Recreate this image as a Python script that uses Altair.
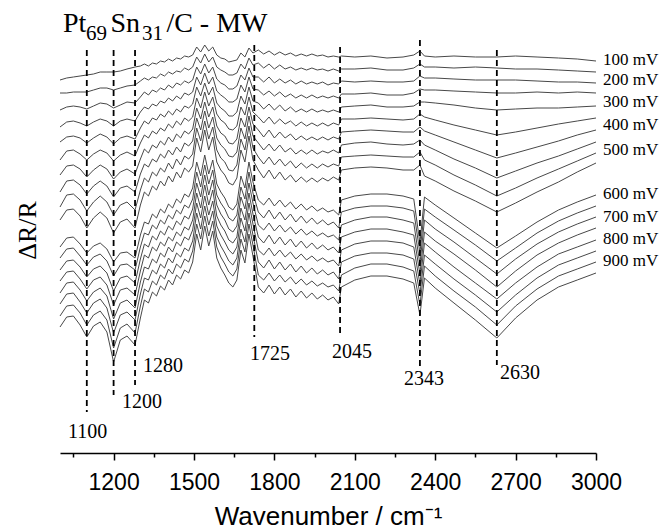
import altair as alt
import pandas as pd

# Wavenumber grid (cm-1) at which the stacked spectra were read
WAVENUMBER = [1000, 1025, 1050, 1075, 1100, 1125, 1150, 1175, 1200, 1225, 1250, 1280,
              1300, 1315, 1330, 1345, 1360, 1375, 1390, 1405, 1420, 1435, 1450, 1465, 1480, 1495, 1510,
              1525, 1540, 1555, 1570, 1585, 1600, 1615, 1630, 1645, 1660, 1675, 1690, 1705, 1720,
              1740, 1760, 1780, 1800, 1820, 1840, 1860, 1880, 1900, 1920, 1940, 1960, 1980, 2000, 2020, 2040,
              2050, 2100, 2160, 2220, 2280, 2320, 2343, 2360, 2400, 2470, 2550, 2630, 2700, 2780, 2860, 2930, 3000]

# Stacked dR/R traces (arbitrary offset units, larger = lower on the page)
S100 = [80, 78, 77, 76, 75, 74, 72, 72, 72, 71, 69, 67,
        66, 64, 66, 63, 64, 61, 62, 59, 61, 58, 59, 56, 57, 55, 47, 52, 45, 51, 47, 55, 58, 59, 62, 61, 60, 53, 57, 48, 53,
        50, 54, 51, 55, 52, 55, 53, 56, 54, 56, 54, 56, 55, 57, 56, 57,
        56, 57, 56, 58, 57, 55, 51, 56, 57, 56, 57, 57, 56, 57, 58, 59, 61]
S150 = [93, 93, 92, 92, 92, 90, 88, 88, 90, 88, 86, 85,
        81, 78, 80, 77, 78, 74, 76, 72, 74, 71, 72, 68, 70, 67, 57, 63, 54, 62, 57, 67, 70, 72, 75, 75, 73, 64, 69, 58, 65,
        63, 68, 64, 69, 65, 69, 67, 70, 68, 70, 68, 70, 69, 71, 69, 71,
        69, 69, 68, 70, 70, 68, 64, 67, 67, 68, 67, 68, 69, 69, 70, 71, 72]
S200 = [110, 107, 106, 107, 109, 106, 103, 104, 108, 105, 102, 103,
        97, 92, 95, 90, 92, 88, 90, 85, 88, 83, 85, 81, 83, 80, 67, 74, 64, 73, 67, 79, 83, 85, 89, 89, 86, 75, 80, 68, 77,
        77, 82, 77, 83, 79, 83, 80, 84, 81, 84, 82, 84, 82, 85, 83, 84,
        81, 82, 81, 82, 82, 81, 76, 78, 78, 79, 80, 80, 80, 81, 82, 82, 83]
S250 = [127, 122, 121, 123, 126, 122, 119, 121, 126, 121, 119, 121,
        112, 107, 109, 104, 106, 101, 103, 98, 101, 96, 99, 93, 95, 92, 77, 85, 73, 84, 77, 91, 95, 98, 102, 102, 99, 85, 92, 77, 89,
        90, 95, 91, 96, 92, 97, 94, 98, 95, 98, 95, 98, 96, 98, 96, 98,
        94, 94, 93, 95, 95, 93, 89, 90, 90, 91, 92, 93, 93, 92, 93, 92, 93]
S300 = [142, 137, 136, 138, 143, 138, 134, 137, 144, 138, 136, 139,
        128, 121, 124, 118, 120, 114, 117, 111, 115, 109, 112, 106, 108, 104, 87, 96, 83, 95, 87, 103, 108, 111, 116, 116, 112, 96, 104, 87, 101,
        103, 109, 104, 110, 105, 111, 107, 112, 109, 112, 109, 112, 110, 112, 110, 112,
        107, 106, 105, 107, 107, 106, 102, 102, 103, 105, 108, 110, 109, 108, 108, 107, 106]
S350 = [160, 151, 150, 154, 160, 154, 150, 153, 161, 155, 152, 156,
        143, 135, 138, 131, 134, 128, 131, 124, 128, 121, 125, 118, 121, 117, 98, 108, 92, 106, 97, 114, 120, 123, 129, 130, 126, 107, 115, 97, 112,
        117, 123, 117, 124, 119, 124, 121, 126, 122, 126, 123, 126, 123, 126, 123, 125,
        119, 119, 118, 119, 120, 119, 114, 117, 120, 125, 130, 135, 132, 128, 124, 121, 118]
S400 = [175, 166, 165, 169, 177, 170, 165, 169, 179, 172, 169, 174,
        159, 149, 153, 145, 148, 141, 145, 137, 142, 134, 138, 131, 134, 129, 108, 119, 102, 117, 107, 126, 133, 136, 143, 144, 139, 118, 127, 107, 124,
        130, 137, 130, 138, 132, 138, 134, 140, 136, 140, 137, 140, 137, 140, 137, 139,
        132, 131, 130, 131, 132, 132, 127, 131, 135, 142, 150, 158, 153, 147, 141, 135, 130]
S450 = [192, 181, 180, 185, 194, 186, 181, 186, 197, 188, 186, 192,
        174, 164, 167, 159, 162, 154, 158, 150, 155, 147, 152, 143, 146, 141, 118, 130, 111, 128, 117, 138, 145, 149, 156, 157, 152, 128, 139, 116, 136,
        143, 150, 144, 151, 145, 152, 148, 154, 150, 154, 150, 154, 151, 153, 150, 153,
        145, 143, 142, 144, 145, 144, 140, 145, 150, 159, 168, 178, 171, 163, 156, 149, 142]
S500 = [207, 195, 194, 200, 211, 202, 196, 202, 215, 205, 202, 210,
        190, 178, 182, 172, 176, 168, 172, 163, 169, 159, 165, 156, 159, 154, 128, 141, 121, 139, 127, 150, 158, 162, 170, 171, 165, 139, 150, 126, 148,
        157, 164, 157, 165, 159, 166, 161, 168, 163, 168, 164, 168, 164, 167, 164, 166,
        157, 156, 155, 156, 157, 157, 152, 160, 165, 175, 185, 196, 188, 178, 169, 161, 153]
S550 = [220, 210, 209, 216, 228, 218, 212, 218, 233, 222, 219, 228,
        205, 192, 196, 186, 190, 181, 186, 176, 182, 172, 178, 168, 172, 166, 138, 152, 130, 150, 137, 162, 170, 175, 183, 185, 178, 150, 162, 136, 160,
        170, 178, 170, 179, 172, 180, 175, 182, 177, 182, 178, 182, 178, 181, 177, 180,
        170, 168, 167, 168, 170, 170, 165, 176, 181, 191, 201, 212, 203, 192, 182, 172, 163]
S600 = [247, 238, 237, 244, 253, 246, 243, 249, 262, 253, 252, 258,
        235, 222, 224, 214, 218, 209, 213, 204, 208, 199, 203, 194, 197, 188, 162, 176, 155, 174, 160, 184, 192, 198, 207, 210, 204, 176, 188, 162, 182,
        200, 205, 198, 206, 200, 207, 202, 209, 204, 210, 206, 211, 208, 212, 210, 215,
        200, 196, 194, 194, 196, 199, 243, 197, 205, 218, 233, 248, 236, 222, 210, 202, 195]
S650 = [258, 249, 248, 256, 265, 257, 254, 261, 276, 265, 264, 270,
        247, 233, 235, 225, 229, 220, 224, 215, 219, 210, 214, 205, 208, 199, 172, 187, 165, 184, 170, 195, 203, 209, 218, 221, 215, 187, 199, 172, 193,
        212, 218, 210, 219, 212, 220, 214, 222, 216, 223, 218, 224, 220, 225, 222, 228,
        212, 208, 206, 206, 208, 211, 253, 209, 217, 230, 245, 261, 248, 233, 221, 213, 206]
S700 = [270, 261, 260, 267, 277, 269, 266, 273, 291, 278, 276, 283,
        259, 244, 247, 236, 240, 231, 235, 226, 230, 221, 225, 216, 219, 209, 183, 197, 175, 195, 180, 205, 214, 220, 229, 232, 226, 197, 209, 183, 203,
        225, 230, 223, 231, 225, 232, 227, 234, 229, 235, 231, 236, 233, 237, 235, 240,
        225, 220, 217, 217, 220, 223, 264, 220, 229, 242, 258, 274, 259, 244, 232, 224, 217]
S750 = [281, 272, 271, 279, 289, 280, 277, 285, 305, 290, 288, 295,
        271, 255, 258, 247, 251, 242, 246, 237, 241, 232, 236, 227, 230, 220, 193, 208, 185, 205, 190, 216, 225, 231, 240, 243, 237, 208, 220, 193, 214,
        237, 243, 235, 244, 237, 245, 239, 247, 241, 248, 243, 249, 245, 250, 247, 253,
        237, 232, 229, 229, 232, 235, 274, 232, 241, 254, 270, 287, 271, 255, 243, 235, 228]
S800 = [293, 283, 282, 290, 301, 292, 288, 296, 319, 303, 300, 308,
        282, 267, 269, 259, 263, 253, 257, 247, 252, 242, 246, 237, 240, 230, 203, 218, 196, 215, 201, 226, 235, 242, 250, 254, 247, 218, 231, 203, 224,
        250, 255, 248, 256, 250, 257, 252, 259, 254, 260, 256, 261, 258, 262, 260, 266,
        250, 244, 241, 241, 243, 247, 284, 243, 252, 267, 283, 299, 283, 267, 254, 247, 240]
S850 = [304, 294, 293, 302, 313, 303, 299, 308, 333, 315, 312, 320,
        294, 278, 280, 270, 274, 264, 268, 258, 263, 253, 257, 248, 251, 241, 213, 229, 206, 225, 211, 237, 246, 253, 261, 265, 258, 229, 242, 213, 235,
        262, 268, 260, 269, 262, 270, 264, 272, 266, 273, 268, 274, 270, 275, 272, 279,
        262, 256, 253, 253, 255, 259, 294, 255, 264, 279, 295, 312, 295, 278, 265, 258, 251]
S900 = [316, 306, 305, 313, 325, 315, 311, 320, 348, 328, 324, 333,
        306, 289, 292, 281, 285, 275, 279, 269, 274, 264, 268, 259, 262, 251, 224, 239, 216, 236, 221, 247, 257, 264, 272, 276, 269, 239, 252, 224, 245,
        275, 280, 273, 281, 275, 282, 277, 284, 279, 285, 281, 286, 283, 287, 285, 291,
        275, 268, 264, 264, 267, 271, 305, 266, 276, 291, 307, 325, 306, 289, 276, 269, 262]
S950 = [327, 317, 316, 325, 337, 326, 322, 332, 362, 340, 336, 345,
        318, 300, 303, 292, 296, 286, 290, 280, 285, 275, 279, 270, 273, 262, 234, 250, 226, 246, 231, 258, 268, 275, 283, 287, 280, 250, 263, 234, 256,
        287, 293, 285, 294, 287, 295, 289, 297, 291, 298, 293, 299, 295, 300, 297, 304,
        287, 280, 276, 276, 279, 283, 315, 278, 288, 303, 320, 338, 318, 300, 287, 280, 273]

POTENTIALS = ["100 mV", "150 mV", "200 mV", "250 mV", "300 mV", "350 mV", "400 mV", "450 mV", "500 mV",
              "550 mV", "600 mV", "650 mV", "700 mV", "750 mV", "800 mV", "850 mV", "900 mV", "950 mV"]
TRACES = [S100, S150, S200, S250, S300, S350, S400, S450, S500, S550,
          S600, S650, S700, S750, S800, S850, S900, S950]

# Marked band positions (cm-1) and the extent of each dashed marker
BANDS = [1100, 1200, 1280, 1725, 2045, 2343, 2630]
BAND_TOP = [50, 50, 50, 45, 47, 40, 50]
BAND_BOTTOM = [412, 395, 385, 337, 337, 370, 365]

# Potential labels shown at the right end
LABELS = ["100 mV", "200 mV", "300 mV", "400 mV", "500 mV", "600 mV", "700 mV", "800 mV", "900 mV"]
LABEL_LEVEL = [65, 85, 107, 130, 155, 199, 222, 244, 266]

rows = []
for pot, tr in zip(POTENTIALS, TRACES):
    for w, v in zip(WAVENUMBER, tr):
        rows.append({"series": pot, "wn": w, "val": v})
spectra = pd.DataFrame(rows)

bands = pd.DataFrame({"wn": BANDS, "top": BAND_TOP, "bottom": BAND_BOTTOM})
band_labels = pd.DataFrame({
    "text": [str(b) for b in BANDS],
    "wn": [1030, 1231, 1310, 1709, 2015, 2284, 2642],
    "val": [438, 408, 372, 360, 358, 385, 379],
})
pot_labels = pd.DataFrame({"text": LABELS, "wn": [3026] * len(LABELS), "val": LABEL_LEVEL})
title_parts = pd.DataFrame({
    "text": ["Pt", "69", "Sn", "31", "/C - MW"],
    "wn": [1011, 1097, 1188, 1306, 1397],
    "val": [32, 40, 32, 40, 32],
    "fs": [28, 21, 28, 21, 28],
})

xscale = alt.Scale(domain=[1000, 3000], nice=False, zero=False)
yscale = alt.Scale(domain=[5, 453], reverse=True, nice=False, zero=False)

tick_values = [1050 + 150 * i for i in range(14)]

xaxis = alt.Axis(
    values=tick_values,
    labelExpr="datum.value % 300 === 0 ? datum.label : ''",
    format="d",
    tickSize={"condition": {"test": "datum.value % 300 === 0", "value": 7}, "value": 4},
    tickColor="black", tickWidth=1.5, domainColor="black", domainWidth=1.5,
    labelFont="Liberation Sans", labelFontSize=23, labelColor="black", labelPadding=11,
    labelFlush=False, labelOverlap=False,
    grid=False,
    title="Wavenumber / cm\u207b\u00b9",
    titleFont="Liberation Sans", titleFontSize=26, titleFontWeight="normal", titleColor="black",
    titleY=71, titleBaseline="alphabetic",
)
yaxis = alt.Axis(
    title="\u0394R/R", labels=False, ticks=False, domain=False, grid=False,
    titleFont="Liberation Serif", titleFontSize=26, titleFontWeight="normal", titleColor="black",
    titleX=-33, titleY=225, titleAlign="center", titleBaseline="middle", titleAngle=270,
)

lines = alt.Chart(spectra).mark_line(strokeWidth=1, color="#484848").encode(
    x=alt.X("wn:Q", scale=xscale, axis=xaxis),
    y=alt.Y("val:Q", scale=yscale, axis=yaxis),
    detail="series:N",
)

rules = alt.Chart(bands).mark_rule(strokeDash=[6, 4], strokeWidth=1.8, color="black").encode(
    x=alt.X("wn:Q", scale=xscale),
    y=alt.Y("top:Q", scale=yscale),
    y2="bottom:Q",
)

band_text = alt.Chart(band_labels).mark_text(
    font="Liberation Serif", fontSize=20, align="left", baseline="alphabetic", color="black"
).encode(x=alt.X("wn:Q", scale=xscale), y=alt.Y("val:Q", scale=yscale), text="text:N")

pot_text = alt.Chart(pot_labels).mark_text(
    font="Liberation Serif", fontSize=17, align="left", baseline="alphabetic", color="black"
).encode(x=alt.X("wn:Q", scale=xscale), y=alt.Y("val:Q", scale=yscale), text="text:N")

title_text = alt.Chart(title_parts).mark_text(
    font="Liberation Serif", align="left", baseline="alphabetic", color="black"
).encode(
    x=alt.X("wn:Q", scale=xscale), y=alt.Y("val:Q", scale=yscale), text="text:N",
    size=alt.Size("fs:Q", scale=None),
)

chart = alt.layer(lines, rules, band_text, pot_text, title_text).properties(
    width=536, height=448,
    autosize=alt.AutoSizeParams(type="none"),
    padding={"left": 60, "top": 5, "right": 66, "bottom": 77},
    background="white",
).configure_view(stroke=None)

chart.save("out.html", embed_options={"renderer": "svg", "actions": False})
